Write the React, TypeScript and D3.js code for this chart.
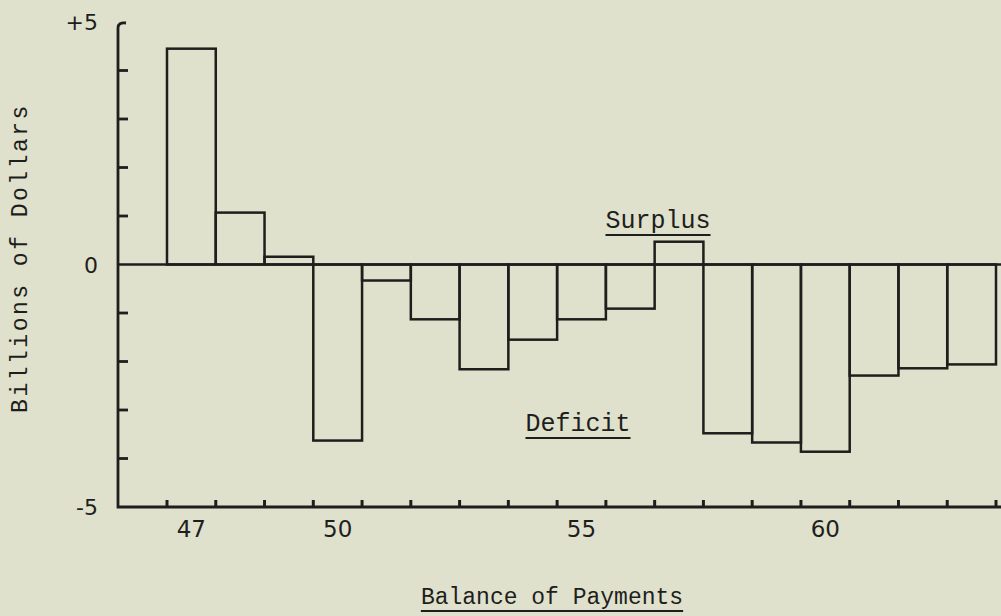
import React, { useRef, useEffect } from 'react';
import * as d3 from 'd3';

// balance of payments, billions of dollars, 1947-1963
const years = [47, 48, 49, 50, 51, 52, 53, 54, 55, 56, 57, 58, 59, 60, 61, 62, 63];
const balance = [4.45, 1.07, 0.16, -3.63, -0.33, -1.13, -2.16, -1.55, -1.13, -0.91, 0.47, -3.48, -3.67, -3.86, -2.29, -2.14, -2.06];
const labeledYears = [47, 50, 55, 60];
const yTicks = [-4, -3, -2, -1, 1, 2, 3, 4];
const yLabels = [
  { v: 5, text: '+5' },
  { v: 0, text: '0' },
  { v: -5, text: '-5' },
];

const W = 1001;
const H = 616;
const ink = '#1e1e1c';
const typewriter = '"Liberation Mono", "DejaVu Sans Mono", monospace';

const BalanceChart: React.FC = () => {
  const svgRef = useRef<SVGSVGElement>(null);

  useEffect(() => {
    if (!svgRef.current) return;
    const svg = d3.select(svgRef.current);
    svg.selectAll('*').remove();

    const axisX = 118;
    const x = d3.scaleBand<number>().domain(years).range([167, 996]).padding(0);
    const y = d3.scaleLinear().domain([-5, 5]).range([507, 22]);

    svg.append('rect').attr('width', W).attr('height', H).attr('fill', '#dfe1cd');

    // bars
    svg.append('g')
      .selectAll('rect')
      .data(years)
      .join('rect')
      .attr('x', d => x(d)!)
      .attr('width', x.bandwidth())
      .attr('y', (d, i) => y(Math.max(0, balance[i])))
      .attr('height', (d, i) => Math.abs(y(balance[i]) - y(0)))
      .attr('fill', 'none')
      .attr('stroke', ink)
      .attr('stroke-width', 2.5);

    // zero line
    svg.append('line')
      .attr('x1', axisX).attr('x2', W)
      .attr('y1', y(0)).attr('y2', y(0))
      .attr('stroke', ink).attr('stroke-width', 2.5);

    // y axis with hooked top, plus x axis
    svg.append('path')
      .attr('d', `M${axisX + 8},${y(5) + 1} Q${axisX},${y(5)} ${axisX},${y(5) + 6} L${axisX},${y(-5)} L${W},${y(-5)}`)
      .attr('fill', 'none')
      .attr('stroke', ink)
      .attr('stroke-width', 2.8);

    svg.append('g')
      .selectAll('line')
      .data(yTicks)
      .join('line')
      .attr('x1', axisX).attr('x2', axisX + 10)
      .attr('y1', d => y(d)).attr('y2', d => y(d))
      .attr('stroke', ink).attr('stroke-width', 2.8);

    svg.append('g')
      .selectAll('text')
      .data(yLabels)
      .join('text')
      .attr('x', 98)
      .attr('y', d => y(d.v) + 8)
      .attr('text-anchor', 'end')
      .attr('font-family', '"DejaVu Sans", sans-serif')
      .attr('font-size', 22)
      .attr('fill', ink)
      .text(d => d.text);

    // x ticks at bar edges
    const edges = years.map(d => x(d)!).concat([x(years[years.length - 1])! + x.bandwidth()]);
    svg.append('g')
      .selectAll('line')
      .data(edges)
      .join('line')
      .attr('x1', d => d).attr('x2', d => d)
      .attr('y1', y(-5)).attr('y2', y(-5) - 7)
      .attr('stroke', ink).attr('stroke-width', 3);

    svg.append('g')
      .selectAll('text')
      .data(labeledYears)
      .join('text')
      .attr('x', d => x(d)! + x.bandwidth() / 2)
      .attr('y', 537)
      .attr('text-anchor', 'middle')
      .attr('font-family', '"DejaVu Sans", sans-serif')
      .attr('font-size', 23)
      .attr('fill', ink)
      .text(d => String(d));

    // y title
    svg.append('text')
      .attr('transform', `translate(27,258) rotate(-90)`)
      .attr('text-anchor', 'middle')
      .attr('font-family', typewriter)
      .attr('font-size', 23)
      .attr('letter-spacing', 2.5)
      .attr('fill', ink)
      .text('Billions of Dollars');

    // underlined labels
    const underlined = (text: string, cx: number, baseline: number, size: number) => {
      const t = svg.append('text')
        .attr('x', cx)
        .attr('y', baseline)
        .attr('text-anchor', 'middle')
        .attr('font-family', typewriter)
        .attr('font-size', size)
        .attr('fill', ink)
        .text(text);
      const bb = (t.node() as SVGTextElement).getBBox();
      svg.append('line')
        .attr('x1', bb.x).attr('x2', bb.x + bb.width)
        .attr('y1', baseline + 7).attr('y2', baseline + 7)
        .attr('stroke', ink).attr('stroke-width', 2.2);
    };

    underlined('Surplus', 658, 228, 25);
    underlined('Deficit', 578, 431, 25);
    underlined('Balance of Payments', 552, 604, 23);
  }, []);

  return (
    <svg ref={svgRef} width={W} height={H} style={{ position: 'absolute', left: 0, top: 0 }} />
  );
};

export default function App() {
  return <BalanceChart />;
}
